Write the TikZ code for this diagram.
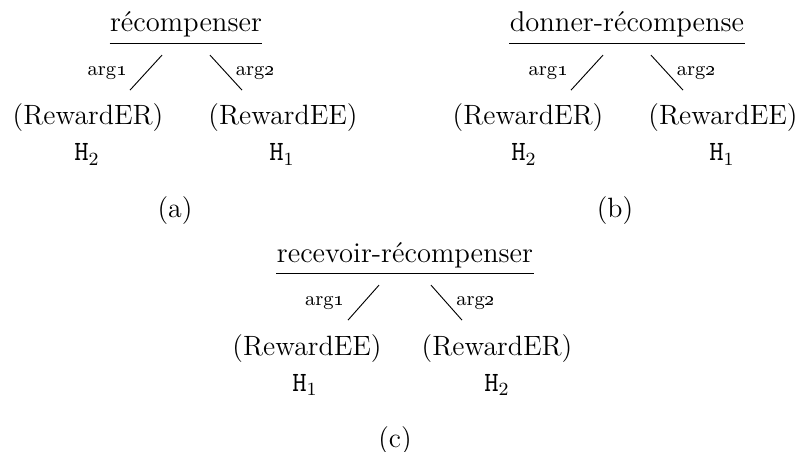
\documentclass[tikz,border=0pt]{standalone}
\usepackage{tikz}
\usetikzlibrary{positioning,calc}

\begin{document}
\begin{tikzpicture}[x=0.43pt, y=-0.43pt,
    pred/.style={anchor=base, inner xsep=0pt, inner ysep=2.2pt, font=\fontsize{12.3}{14}\selectfont},
    role/.style={anchor=base, font=\fontsize{12}{14}\selectfont},
    hyp/.style={anchor=base, font=\fontsize{12}{14}\selectfont},
    arglabel/.style={inner sep=1pt, font=\fontsize{8.6}{10}\selectfont},
    sublabel/.style={font=\fontsize{12}{14}\selectfont}]

    \useasboundingbox (0,0) rectangle (800,452);

    % --- TREE (a) ---
    \node[pred] (ta) at (186,32) {récompenser};
    \draw (ta.south west) -- (ta.south east);
    \coordinate (ta1) at ($(ta.south)+(-24,12)$);
    \coordinate (ba1) at ($(ta.south)+(-56,47)$);
    \coordinate (ta2) at ($(ta.south)+(24,12)$);
    \coordinate (ba2) at ($(ta.south)+(56,47)$);
    \draw (ta1) -- (ba1) node[arglabel, midway, left=7pt] {arg\oldstylenums{1}};
    \draw (ta2) -- (ba2) node[arglabel, midway, right=3pt] {arg\oldstylenums{2}};
    \node[role] (ra1) at (88,125) {(RewardER)};
    \node[role] (ra2) at (283,125) {(RewardEE)};
    \node[hyp] (ha1) at (87,161) {\texttt{H}$_2$};
    \node[hyp] (ha2) at (282,161) {\texttt{H}$_1$};
    \node[sublabel] (capa) at (175,211) {(a)};

    % --- TREE (b) ---
    \node[pred] (tb) at (627,32) {donner-récompense};
    \draw (tb.south west) -- (tb.south east);
    \coordinate (tb1) at ($(tb.south)+(-24,12)$);
    \coordinate (bb1) at ($(tb.south)+(-56,47)$);
    \coordinate (tb2) at ($(tb.south)+(24,12)$);
    \coordinate (bb2) at ($(tb.south)+(56,47)$);
    \draw (tb1) -- (bb1) node[arglabel, midway, left=7pt] {arg\oldstylenums{1}};
    \draw (tb2) -- (bb2) node[arglabel, midway, right=3pt] {arg\oldstylenums{2}};
    \node[role] (rb1) at (528,125) {(RewardER)};
    \node[role] (rb2) at (723,125) {(RewardEE)};
    \node[hyp] (hb1) at (524,161) {\texttt{H}$_2$};
    \node[hyp] (hb2) at (722,161) {\texttt{H}$_1$};
    \node[sublabel] (capb) at (615,211) {(b)};

    % --- TREE (c) ---
    \node[pred] (tc) at (405,262) {recevoir-récompenser};
    \draw (tc.south west) -- (tc.south east);
    \coordinate (tc1) at ($(tc.south)+(-26,12)$);
    \coordinate (bc1) at ($(tc.south)+(-57,47)$);
    \coordinate (tc2) at ($(tc.south)+(26,12)$);
    \coordinate (bc2) at ($(tc.south)+(57,47)$);
    \draw (tc1) -- (bc1) node[arglabel, midway, left=7pt] {arg\oldstylenums{1}};
    \draw (tc2) -- (bc2) node[arglabel, midway, right=3pt] {arg\oldstylenums{2}};
    \node[role] (rc1) at (307,355) {(RewardEE)};
    \node[role] (rc2) at (497,355) {(RewardER)};
    \node[hyp] (hc1) at (305,391) {\texttt{H}$_1$};
    \node[hyp] (hc2) at (497,391) {\texttt{H}$_2$};
    \node[sublabel] (capc) at (395,441) {(c)};
\end{tikzpicture}
\end{document}
